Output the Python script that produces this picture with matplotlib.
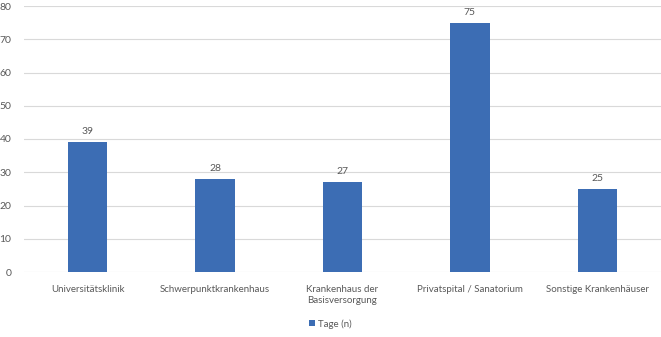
import matplotlib
matplotlib.use("Agg")
import matplotlib.pyplot as plt
from matplotlib.patches import Patch

categories = ["Universitätsklinik", "Schwerpunktkrankenhaus", "Krankenhaus der\nBasisversorgung",
              "Privatspital / Sanatorium", "Sonstige Krankenhäuser"]
values = [39, 28, 27, 75, 25]
series_name = "Tage (n)"
yticks = [0, 10, 20, 30, 40, 50, 60, 70, 80]

plt.rcParams['font.family'] = ['Lato', 'DejaVu Sans']
text_color = "#595959"
bar_color = "#3C6DB4"
fs = 7

fig = plt.figure(figsize=(6.61, 3.37), dpi=100)
ax = fig.add_axes([24/661, 65/337, 637/661, 266/337])

x = list(range(len(categories)))
bars = ax.bar(x, values, width=0.31, color=bar_color, zorder=3)
for xi, v in zip(x, values):
    ax.text(xi, v + 1.8, str(v), ha="center", va="bottom", fontsize=fs + 0.5, color=text_color)

ax.set_xlim(-0.5, len(categories) - 0.5)
ax.set_ylim(0, 80)
ax.set_yticks(yticks)
ax.grid(axis="y", color="#d9d9d9", linewidth=0.8, zorder=0)
for s in ax.spines.values():
    s.set_visible(False)
ax.tick_params(axis="both", length=0, colors=text_color, labelsize=fs + 0.5)
ax.tick_params(axis="y", pad=9)
ax.tick_params(axis="x", pad=9)
ax.set_xticks(x)
ax.set_xticklabels(categories, fontsize=fs, color=text_color, linespacing=1.4)

handle = Patch(facecolor=bar_color, edgecolor="none")
fig.legend([handle], [series_name], loc="center", bbox_to_anchor=(0.5, 1 - 324/337),
           frameon=False, fontsize=fs, labelcolor=text_color,
           handlelength=0.6, handleheight=0.6, handletextpad=0.3)

fig.savefig("out.png", dpi=100)
